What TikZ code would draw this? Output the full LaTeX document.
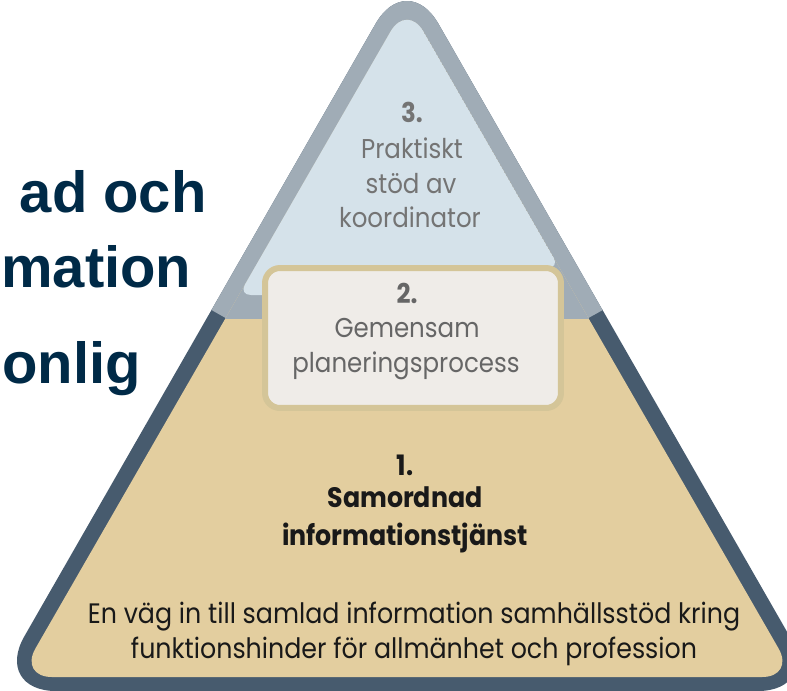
\documentclass[tikz,border=0pt]{standalone}
\usepackage{fontspec}
\setmainfont{Liberation Sans}
\newfontfamily\geofont[FakeStretch=0.9]{Poppins}
\usetikzlibrary{positioning}

\definecolor{darkrim}{HTML}{475B6E}
\definecolor{lightrim}{HTML}{A0ACB6}
\definecolor{topfill}{HTML}{D5E2EA}
\definecolor{basefill}{HTML}{E3CE9F}
\definecolor{boxfill}{HTML}{EFECE8}
\definecolor{boxrim}{HTML}{D4C598}
\definecolor{navy}{HTML}{002A47}
\definecolor{softgray}{HTML}{747474}

% outline of the pyramid and of its inside
\newcommand{\outertri}{(407,-31) -- (-7,691) -- (821,691) -- cycle}
\newcommand{\innertri}{(407,3) -- (19,677) -- (795,677) -- cycle}

\tikzset{
  headline/.style={inner sep=0pt, text=navy, font=\fontsize{33}{38}\selectfont\bfseries},
  toptext/.style={anchor=base, text=softgray, font=\geofont\fontsize{15.5}{18}\selectfont},
  midtext/.style={anchor=base, text=softgray!88!black, font=\geofont\fontsize{15.5}{18}\selectfont},
  basetext/.style={anchor=base, text=black!90, font=\geofont\fontsize{16}{18}\selectfont},
  planbox/.style={draw=boxrim, fill=boxfill, line width=0.12cm, rounded corners=0.3cm,
    minimum width=5.92cm, minimum height=2.8cm}
}

\begin{document}
\begin{tikzpicture}[x=0.02cm,y=-0.02cm]
\useasboundingbox (0,0) rectangle (787,690);

% rim: dark below, light grey above
\fill[darkrim, rounded corners=1.26cm] \outertri;
\begin{scope}
\clip (225.6,318) -- (185,295) -- (185,-60) -- (630,-60) -- (630,295) -- (588.4,318) -- cycle;
\fill[lightrim, rounded corners=1.26cm] \outertri;
\end{scope}

% inside
\fill[basefill, rounded corners=0.66cm] \innertri;
\begin{scope}
\clip (0,-60) rectangle (787,318);
\fill[lightrim, rounded corners=0.66cm] \innertri;
\end{scope}
\begin{scope}
\clip[rounded corners=0.66cm] \innertri;
\fill[topfill, rounded corners=0.24cm] (407,3) -- (238.9,295) -- (410,295) -- (410,268) -- (559.6,268) -- cycle;
\end{scope}

% level 2 box
\node[planbox] (plan) at (413,338) {};

% headline, reaching the left edge
\node[headline, anchor=base east] (h1) at (207,212) {ad och};
\node[headline, anchor=base west] (h2) at (1,287) {mation};
\node[headline, anchor=base west] (h3) at (2,383) {onlig};

% level 3
\node[toptext] (n3) at (412,122) {\bfseries 3.};
\node[toptext] (t3a) at (412,158) {Praktiskt};
\node[toptext] (t3b) at (411,193) {stöd av};
\node[toptext] (t3c) at (410,227) {koordinator};

% level 2
\node[midtext] (n2) at (407,303) {\bfseries 2.};
\node[midtext] (t2a) at (407,337) {Gemensam};
\node[midtext] (t2b) at (406,372) {planeringsprocess};

% level 1
\node[basetext] (n1) at (405,475) {\bfseries 1.};
\node[basetext] (t1a) at (405,507) {\bfseries Samordnad};
\node[basetext] (t1b) at (405,545) {\bfseries informationstjänst};
\node[basetext] (t1c) at (414,623) {En väg in till samlad information samhällsstöd kring};
\node[basetext] (t1d) at (414,658) {funktionshinder för allmänhet och profession};
\end{tikzpicture}
\end{document}
